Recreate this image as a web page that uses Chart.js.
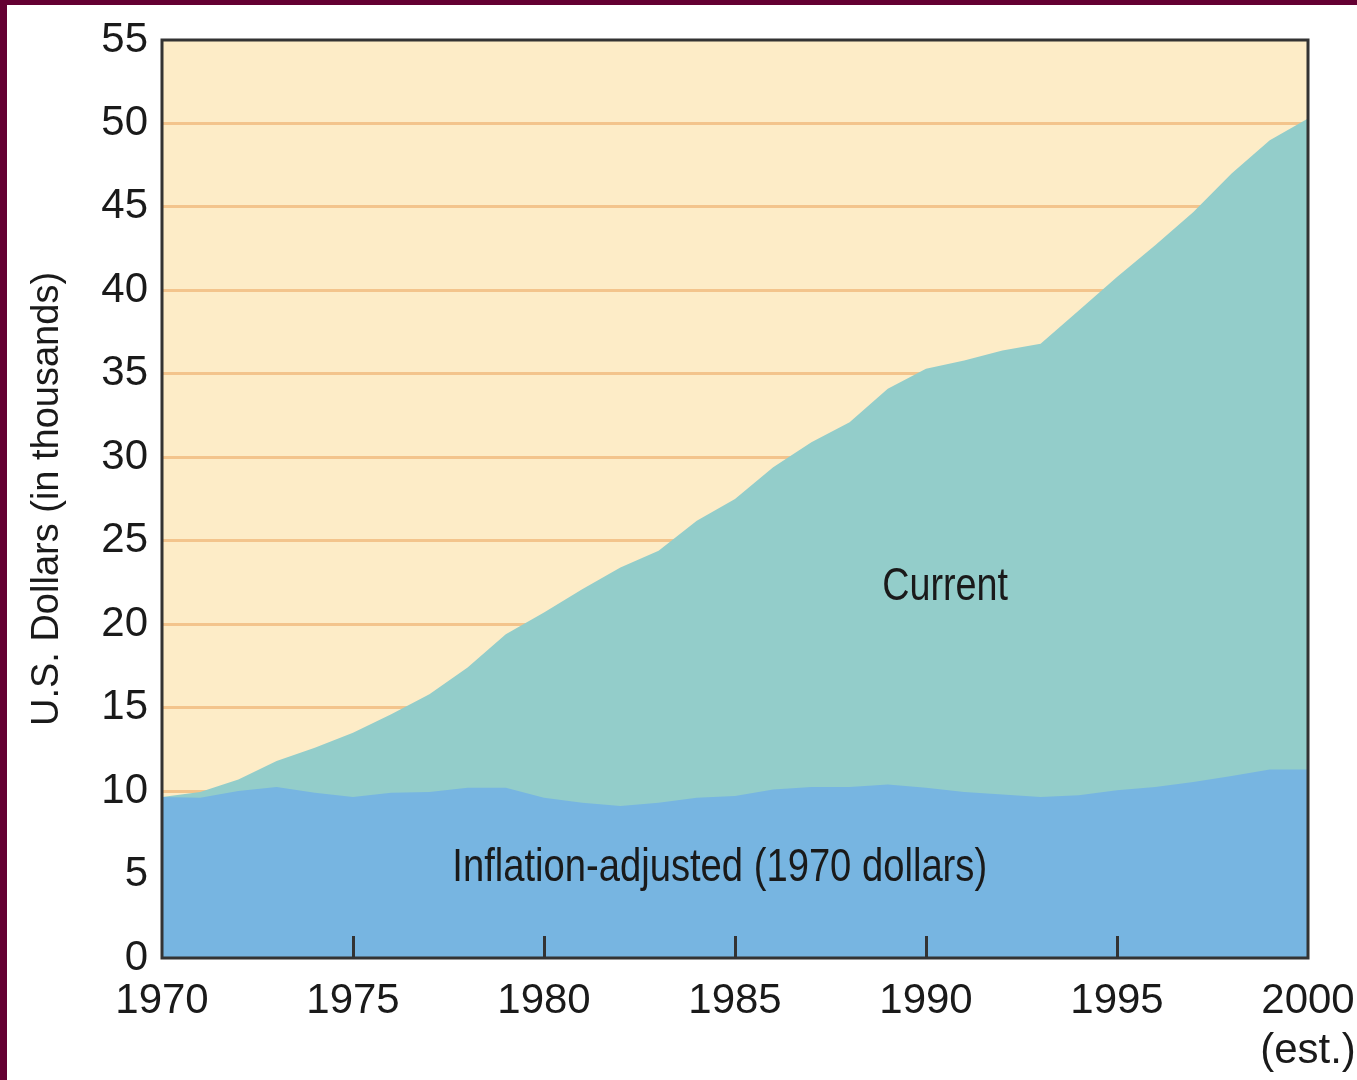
<!DOCTYPE html>
<html>
<head>
<meta charset="utf-8">
<script src="https://cdn.jsdelivr.net/npm/chart.js@4/dist/chart.umd.min.js"></script>
<style>
  html, body { margin: 0; padding: 0; background: #fff; }
  body { width: 1357px; height: 1080px; overflow: hidden; box-sizing: border-box;
         border-left: 7px solid #640032; border-top: 5px solid #640032; }
  #wrap { width: 1350px; height: 1075px; position: relative; }
</style>
</head>
<body>
<div id="wrap"><canvas id="incomeChart"></canvas></div>
<script>
// median income, thousands of US dollars
const years = [1970, 1971, 1972, 1973, 1974, 1975, 1976, 1977, 1978, 1979,
  1980, 1981, 1982, 1983, 1984, 1985, 1986, 1987, 1988, 1989,
  1990, 1991, 1992, 1993, 1994, 1995, 1996, 1997, 1998, 1999, 2000];
const currentDollars = [9.65, 9.95, 10.7, 11.8, 12.6, 13.5, 14.6, 15.8, 17.4, 19.4,
  20.7, 22.1, 23.4, 24.4, 26.2, 27.5, 29.4, 30.9, 32.1, 34.1,
  35.3, 35.8, 36.4, 36.8, 38.8, 40.8, 42.7, 44.7, 47.0, 49.0, 50.3];
const adjustedDollars = [9.65, 9.6, 10.0, 10.25, 9.9, 9.65, 9.9, 9.95, 10.2, 10.2,
  9.6, 9.3, 9.1, 9.3, 9.6, 9.7, 10.1, 10.25, 10.25, 10.4,
  10.2, 9.95, 9.8, 9.65, 9.75, 10.05, 10.25, 10.55, 10.9, 11.3, 11.3];
const yTicks = [0, 5, 10, 15, 20, 25, 30, 35, 40, 45, 50, 55];
const xTicks = [1970, 1975, 1980, 1985, 1990, 1995, 2000];

const tickFont = { family: '"Liberation Sans", Arial, sans-serif', size: 42 };
const sans = '"Liberation Sans", Arial, sans-serif';

// draw text squeezed horizontally, like the condensed face in the original
function narrowText(ctx, text, x, y, squeeze) {
  ctx.save();
  ctx.translate(x, y);
  ctx.scale(squeeze, 1);
  ctx.fillText(text, 0, 0);
  ctx.restore();
}

const chartDecor = {
  id: 'chartDecor',
  beforeDraw(chart) {
    const { ctx, chartArea: a } = chart;
    ctx.save();
    ctx.fillStyle = '#fdecc7';
    ctx.fillRect(a.left, a.top, a.right - a.left, a.bottom - a.top);
    ctx.restore();
  },
  afterDraw(chart) {
    const { ctx, chartArea: a, scales } = chart;
    ctx.save();
    ctx.fillStyle = '#1a1a1a';
    ctx.textAlign = 'center';
    ctx.textBaseline = 'middle';
    ctx.font = '46px ' + sans;
    narrowText(ctx, 'Current', scales.x.getPixelForValue(1990.5), scales.y.getPixelForValue(22.2), 0.82);
    narrowText(ctx, 'Inflation-adjusted (1970 dollars)', scales.x.getPixelForValue(1984.6), scales.y.getPixelForValue(5.35), 0.83);

    ctx.strokeStyle = '#333';
    ctx.lineWidth = 3;
    xTicks.slice(1, -1).forEach(v => {
      const px = Math.round(scales.x.getPixelForValue(v)) + 0.5;
      ctx.beginPath();
      ctx.moveTo(px, a.bottom);
      ctx.lineTo(px, a.bottom - 22);
      ctx.stroke();
    });
    ctx.strokeRect(a.left, a.top, a.right - a.left, a.bottom - a.top);
    ctx.restore();
  }
};

new Chart(document.getElementById('incomeChart'), {
  type: 'line',
  data: {
    datasets: [
      {
        label: 'Inflation-adjusted (1970 dollars)',
        data: years.map((y, i) => ({ x: y, y: adjustedDollars[i] })),
        backgroundColor: '#77b5e1',
        borderWidth: 0,
        pointRadius: 0,
        fill: 'origin',
        order: 0
      },
      {
        label: 'Current',
        data: years.map((y, i) => ({ x: y, y: currentDollars[i] })),
        backgroundColor: '#93cdca',
        borderWidth: 0,
        pointRadius: 0,
        fill: 'origin',
        order: 1
      }
    ]
  },
  options: {
    responsive: true,
    maintainAspectRatio: false,
    animation: false,
    layout: { padding: { top: 35, right: 49, left: 0, bottom: 0 } },
    plugins: { legend: { display: false }, tooltip: { enabled: false } },
    scales: {
      x: {
        type: 'linear',
        min: 1970,
        max: 2000,
        afterBuildTicks: s => { s.ticks = xTicks.map(v => ({ value: v })); },
        afterFit: s => { s.height = 122; s.paddingLeft = 0; s.paddingRight = 0; },
        border: { display: false },
        grid: { display: false, drawTicks: false },
        ticks: {
          font: tickFont,
          color: '#1a1a1a',
          padding: 18,
          maxRotation: 0,
          autoSkip: false,
          callback: v => v === 2000 ? ['2000', '(est.)'] : String(v)
        }
      },
      y: {
        min: 0,
        max: 55,
        afterBuildTicks: s => { s.ticks = yTicks.map(v => ({ value: v })); },
        afterFit: s => { s.width = 155; s.paddingTop = 0; s.paddingBottom = 0; },
        border: { display: false },
        grid: {
          drawTicks: false,
          lineWidth: 3,
          color: c => (c.tick.value === 0 || c.tick.value === 55) ? 'rgba(0,0,0,0)' : '#f3c48c'
        },
        ticks: { font: tickFont, color: '#1a1a1a', padding: 14 },
        title: {
          display: true,
          text: 'U.S. Dollars (in thousands)',
          font: { family: sans, size: 38 },
          color: '#1a1a1a',
          padding: { top: 18, bottom: 0 }
        }
      }
    }
  },
  plugins: [chartDecor]
});
</script>
</body>
</html>
